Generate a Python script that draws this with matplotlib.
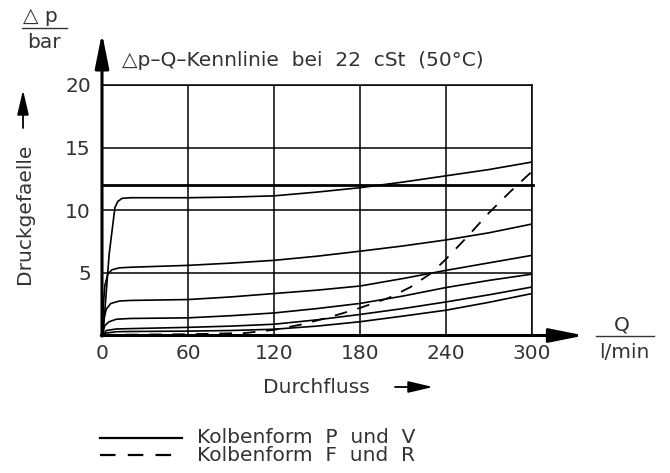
import numpy as np
import matplotlib
matplotlib.use('Agg')
import matplotlib.pyplot as plt
from matplotlib.lines import Line2D

# --- Daten --- #
x_ticks = [0, 60, 120, 180, 240, 300]
y_ticks = [5, 10, 15, 20]
grenze = 12          # dicke waagerechte Linie

# Kolbenform P und V (durchgezogen), von oben nach unten
q1 = [0, 1, 5, 9, 11, 14, 20, 60, 90, 120, 150, 180, 210, 240, 270, 300]
p1 = [0, 0.5, 6.5, 10.2, 10.7, 10.95, 11.0, 11.0, 11.05, 11.15, 11.45, 11.8, 12.25, 12.75, 13.25, 13.85]

q2 = [0, 1, 2, 4, 7, 12, 20, 60, 90, 120, 150, 180, 210, 240, 270, 300]
p2 = [0, 2.5, 4.0, 4.9, 5.25, 5.4, 5.45, 5.6, 5.78, 6.0, 6.33, 6.73, 7.15, 7.63, 8.2, 8.9]

q3 = [0, 1, 3, 6, 12, 20, 60, 90, 120, 150, 180, 210, 240, 270, 300]
p3 = [0, 1.2, 2.1, 2.55, 2.75, 2.8, 2.87, 3.08, 3.35, 3.62, 3.95, 4.55, 5.2, 5.8, 6.4]

q4 = [0, 2, 5, 10, 20, 60, 90, 120, 150, 180, 210, 240, 270, 300]
p4 = [0, 0.8, 1.1, 1.3, 1.36, 1.41, 1.58, 1.8, 2.15, 2.56, 3.15, 3.83, 4.4, 4.9]

q5 = [0, 3, 10, 20, 60, 90, 120, 150, 180, 210, 240, 270, 300]
p5 = [0, 0.4, 0.52, 0.55, 0.65, 0.75, 0.9, 1.25, 1.68, 2.15, 2.68, 3.25, 3.87]

q6 = [0, 3, 10, 20, 60, 90, 120, 150, 180, 210, 240, 270, 300]
p6 = [0, 0.2, 0.3, 0.32, 0.35, 0.4, 0.5, 0.75, 1.1, 1.55, 2.02, 2.65, 3.35]

# Kolbenform F und R (gestrichelt)
qd = [0, 60, 100, 120, 140, 160, 180, 200, 215, 230, 240, 255, 270, 285, 300]
pd_ = [0.05, 0.1, 0.2, 0.45, 0.9, 1.5, 2.2, 3.0, 3.85, 5.0, 6.1, 7.9, 9.8, 11.5, 13.1]

# ------------------------------------------------------------- #
W, H = 670, 473
TXT = '#333333'
FS = 14.5

def px(x, y):
    # Pixel (oben links) -> figure fraction
    return (x / W, 1 - y / H)

fig = plt.figure(figsize=(W / 100, H / 100), dpi=100)
ax = fig.add_axes([102 / W, 1 - 335.5 / H, 430 / W, 250.5 / H])

ax.set_xlim(0, 300)
ax.set_ylim(0, 20)
ax.set_xticks(x_ticks)
ax.set_yticks(y_ticks)
ax.grid(True, color='black', lw=1.1)
ax.tick_params(length=0, labelsize=FS, labelcolor=TXT)
ax.tick_params(axis='x', pad=6)
ax.tick_params(axis='y', pad=8)
for s in ['left', 'bottom']:
    ax.spines[s].set_visible(False)
for s in ['top', 'right']:
    ax.spines[s].set_linewidth(1.1)

ax.plot([0, 301], [grenze, grenze], color='black', lw=2.0, clip_on=False)

for q, p in [(q1, p1), (q2, p2), (q3, p3), (q4, p4), (q5, p5), (q6, p6)]:
    ax.plot(q, p, color='black', lw=1.2, solid_joinstyle='round')
ax.plot(qd, pd_, color='black', lw=1.3, linestyle=(0, (7, 6)))

# Achsen mit Pfeilen
ax.annotate('', xy=(0, 24.15), xytext=(0, -0.05), annotation_clip=False,
            arrowprops=dict(arrowstyle='-|>,head_length=2.1,head_width=0.42',
                            mutation_scale=10, lw=2.2, color='black', shrinkA=0, shrinkB=0))
ax.annotate('', xy=(336.5, 0), xytext=(-0.5, 0), annotation_clip=False,
            arrowprops=dict(arrowstyle='-|>,head_length=2.1,head_width=0.42',
                            mutation_scale=10, lw=2.2, color='black', shrinkA=0, shrinkB=0))

# Titel
fig.text(*px(122, 60), '\u25b3p\u2013Q\u2013Kennlinie  bei  22  cSt  (50\u00b0C)',
         fontsize=FS, color=TXT, ha='left', va='center')

# Einheit Delta p / bar
fig.text(*px(40, 17), '\u25b3 p', fontsize=FS, color=TXT, ha='center', va='center')
fig.add_artist(Line2D([22 / W, 67 / W], [1 - 28 / H, 1 - 28 / H], color=TXT, lw=1.0))
fig.text(*px(44, 43), 'bar', fontsize=FS, color=TXT, ha='center', va='center')

# Y-Beschriftung
fig.text(*px(25, 214), 'Druckgefaelle', fontsize=FS, color=TXT, rotation=90,
         ha='center', va='center')
fig.add_artist(plt.Annotation('', xy=px(23, 90), xytext=px(23, 128),
                              xycoords='figure fraction', textcoords='figure fraction',
                              arrowprops=dict(arrowstyle='-|>,head_length=1.5,head_width=0.35',
                                              mutation_scale=10, lw=1.3, color='black',
                                              shrinkA=0, shrinkB=0)))

# Einheit Q / l/min
fig.text(*px(622, 325), 'Q', fontsize=FS, color=TXT, ha='center', va='center')
fig.add_artist(Line2D([596 / W, 654 / W], [1 - 336 / H, 1 - 336 / H], color=TXT, lw=1.0))
fig.text(*px(624, 352), 'l/min', fontsize=FS, color=TXT, ha='center', va='center')

# X-Beschriftung
fig.text(*px(316, 387), 'Durchfluss', fontsize=FS, color=TXT, ha='center', va='center')
fig.add_artist(plt.Annotation('', xy=px(433, 387), xytext=px(395, 387),
                              xycoords='figure fraction', textcoords='figure fraction',
                              arrowprops=dict(arrowstyle='-|>,head_length=1.5,head_width=0.35',
                                              mutation_scale=10, lw=1.3, color='black',
                                              shrinkA=0, shrinkB=0)))

# Legende
fig.add_artist(Line2D([100 / W, 182 / W], [1 - 438 / H, 1 - 438 / H], color='black', lw=1.6))
fig.text(*px(197, 437), 'Kolbenform  P  und  V', fontsize=FS, color=TXT, ha='left', va='center')
fig.add_artist(Line2D([100 / W, 182 / W], [1 - 455 / H, 1 - 455 / H], color='black', lw=1.6,
                      linestyle=(0, (7, 5.5))))
fig.text(*px(197, 455), 'Kolbenform  F  und  R', fontsize=FS, color=TXT, ha='left', va='center')

fig.savefig('out.png', dpi=100)
